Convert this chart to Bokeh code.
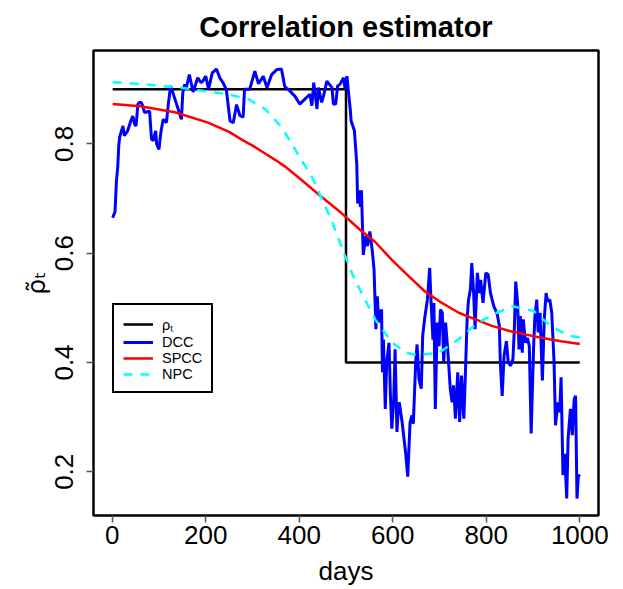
from bokeh.plotting import figure
from bokeh.models import Range1d, FixedTicker, Legend, LegendItem, Label
from bokeh.embed import file_html
from bokeh.resources import INLINE

# ---- data ----
rho_days = [1, 500, 500, 1000]
rho_vals = [0.9, 0.9, 0.4, 0.4]

dcc_days = [1, 6, 9, 12, 14, 16, 23, 26, 33, 41, 44, 48, 51, 55, 58, 62, 65, 69, 72, 80,
            84, 88, 90, 93, 95, 100, 104, 109, 116, 120, 125, 132, 141, 148, 151, 155, 158, 165, 173, 183,
            190, 194, 200, 206, 214, 223, 230, 237, 244, 252, 259, 266, 273, 280, 283, 294, 305, 313, 323, 331,
            341, 352, 362, 369, 380, 391, 401, 412, 423, 427, 431, 438, 441, 448, 452, 459, 470, 473, 478, 482,
            487, 491, 495, 498, 502, 505, 509, 511, 518, 523, 525, 528, 531, 533, 537, 542, 546, 551, 556, 560,
            564, 567, 570, 571, 576, 578, 580, 584, 587, 592, 595, 598, 602, 605, 609, 612, 614, 620, 624, 628,
            632, 637, 641, 644, 649, 652, 656, 661, 664, 668, 674, 679, 682, 686, 688, 691, 695, 699, 702, 706,
            709, 713, 718, 723, 727, 730, 734, 739, 743, 747, 752, 755, 759, 762, 766, 769, 773, 776, 781, 785,
            788, 793, 799, 804, 809, 816, 823, 828, 830, 834, 838, 843, 847, 852, 857, 860, 863, 867, 870, 873,
            877, 879, 884, 888, 892, 896, 901, 904, 908, 911, 915, 920, 924, 928, 931, 936, 940, 945, 948, 953,
            957, 960, 964, 968, 972, 975, 980, 984, 988, 991, 994, 997, 1000]
dcc_vals = [0.665, 0.676, 0.731, 0.76, 0.797, 0.813, 0.833, 0.815, 0.824, 0.845, 0.851, 0.836, 0.833, 0.873, 0.876, 0.876, 0.87, 0.858, 0.858, 0.86,
            0.809, 0.806, 0.815, 0.824, 0.8, 0.79, 0.821, 0.845, 0.839, 0.873, 0.906, 0.888, 0.864, 0.845, 0.894, 0.909, 0.901, 0.927, 0.895, 0.921,
            0.912, 0.915, 0.924, 0.9, 0.93, 0.937, 0.921, 0.912, 0.9, 0.842, 0.839, 0.872, 0.852, 0.849, 0.9, 0.9, 0.933, 0.91, 0.924, 0.903,
            0.927, 0.936, 0.937, 0.905, 0.897, 0.887, 0.873, 0.882, 0.891, 0.87, 0.912, 0.864, 0.903, 0.876, 0.888, 0.915, 0.903, 0.873, 0.873, 0.906,
            0.909, 0.915, 0.921, 0.9, 0.924, 0.897, 0.864, 0.842, 0.824, 0.764, 0.691, 0.715, 0.685, 0.715, 0.597, 0.631, 0.613, 0.64, 0.606, 0.57,
            0.461, 0.521, 0.473, 0.485, 0.497, 0.382, 0.442, 0.315, 0.4, 0.436, 0.34, 0.279, 0.33, 0.424, 0.273, 0.322, 0.327, 0.291, 0.261, 0.231,
            0.191, 0.29, 0.303, 0.288, 0.4, 0.433, 0.37, 0.352, 0.449, 0.479, 0.515, 0.573, 0.509, 0.442, 0.509, 0.315, 0.473, 0.43, 0.497, 0.491,
            0.4, 0.473, 0.418, 0.352, 0.327, 0.358, 0.297, 0.382, 0.291, 0.376, 0.297, 0.37, 0.479, 0.515, 0.533, 0.582, 0.527, 0.461, 0.564, 0.527,
            0.551, 0.509, 0.564, 0.561, 0.527, 0.503, 0.49, 0.467, 0.4, 0.339, 0.412, 0.439, 0.4, 0.394, 0.406, 0.461, 0.548, 0.509, 0.424, 0.485,
            0.418, 0.479, 0.436, 0.445, 0.43, 0.27, 0.424, 0.485, 0.515, 0.455, 0.491, 0.367, 0.479, 0.527, 0.512, 0.515, 0.491, 0.4, 0.285, 0.327,
            0.309, 0.373, 0.194, 0.233, 0.151, 0.261, 0.315, 0.267, 0.333, 0.339, 0.151, 0.194, 0.191]

spcc_days = [1, 60, 134, 205, 250, 277, 300, 326, 350, 369, 405, 448, 491, 530, 562, 598, 634, 669, 705, 741,
             777, 812, 848, 885, 920, 960, 1000]
spcc_vals = [0.873, 0.869, 0.858, 0.839, 0.822, 0.808, 0.797, 0.783, 0.770, 0.759, 0.734, 0.703, 0.673, 0.643, 0.621, 0.588, 0.558, 0.53, 0.509, 0.491,
             0.479, 0.467, 0.458, 0.451, 0.445, 0.439, 0.434]

npc_days = [1, 69, 155, 246, 291, 327, 363, 405, 427, 448, 469, 498, 519, 563, 599, 629, 652, 699, 742, 780,
            820, 856, 902, 937, 977, 1000]
npc_vals = [0.913, 0.909, 0.902, 0.891, 0.882, 0.864, 0.83, 0.77, 0.74, 0.70, 0.66, 0.595, 0.551, 0.478, 0.436, 0.418, 0.413, 0.418, 0.443, 0.472,
            0.49, 0.503, 0.494, 0.467, 0.449, 0.446]

x_ticks = [0, 200, 400, 600, 800, 1000]
y_ticks = [0.2, 0.4, 0.6, 0.8]

FONT = "Liberation Sans"

p = figure(width=623, height=589, output_backend="svg", toolbar_location=None,
           x_range=Range1d(-40, 1040), y_range=Range1d(0.12, 0.971),
           min_border_left=93, min_border_right=25, min_border_top=46, min_border_bottom=74,
           title="Correlation estimator")
p.background_fill_color = "white"
p.border_fill_color = "white"
p.grid.visible = False
p.outline_line_color = "black"
p.outline_line_width = 2.5

p.title.align = "center"
p.title.text_font = FONT
p.title.text_font_size = "29px"
p.title.text_font_style = "bold"
p.title.text_color = "black"
p.title.standoff = 16

for ax in (p.xaxis[0], p.yaxis[0]):
    ax.axis_line_color = None
    ax.major_tick_line_color = "#555555"
    ax.major_tick_line_width = 1.5
    ax.major_tick_in = 0
    ax.major_tick_out = 7
    ax.minor_tick_line_color = None
    ax.major_label_text_font = FONT
    ax.major_label_text_font_size = "26px"
    ax.major_label_text_color = "black"
    ax.axis_label_text_font = FONT
    ax.axis_label_text_font_size = "26px"
    ax.axis_label_text_font_style = "normal"
    ax.axis_label_text_color = "black"

p.xaxis.ticker = FixedTicker(ticks=x_ticks)
p.yaxis.ticker = FixedTicker(ticks=y_ticks)
p.xaxis.major_label_standoff = 3
p.yaxis.major_label_standoff = 13
p.yaxis.major_label_orientation = "vertical"
p.xaxis.axis_label = "days"
p.xaxis.axis_label_standoff = 9
p.yaxis.axis_label = "ρ̃ₜ"
p.yaxis.axis_label_text_font = "DejaVu Sans"
p.yaxis.axis_label_text_font_size = "25px"
p.yaxis.axis_label_standoff = 2

r_rho = p.line(rho_days, rho_vals, line_color="black", line_width=2.5)
r_dcc = p.line(dcc_days, dcc_vals, line_color="#0000ff", line_width=3)
r_spcc = p.line(spcc_days, spcc_vals, line_color="#ff0000", line_width=2.5)
r_npc = p.line(npc_days, npc_vals, line_color="#00ffff", line_width=2.5, line_dash="9 8")

legend = Legend(items=[LegendItem(label="ρₜ", renderers=[r_rho]),
                       LegendItem(label="DCC", renderers=[r_dcc]),
                       LegendItem(label="SPCC", renderers=[r_spcc]),
                       LegendItem(label="NPC", renderers=[r_npc])],
                location=(19, 122))
legend.label_text_font = FONT
legend.label_text_font_size = "14.5px"
legend.label_text_color = "black"
legend.label_height = 16
legend.glyph_height = 16
legend.glyph_width = 30
legend.spacing = 0
legend.padding = 9
legend.margin = 0
legend.label_standoff = 9
legend.border_line_color = "black"
legend.border_line_alpha = 1
legend.border_line_width = 2
legend.background_fill_color = "white"
legend.background_fill_alpha = 1
p.add_layout(legend)

# clipped tick label of a neighbouring panel at the far left edge
p.add_layout(Label(x=-226, y=0.089, text="0", text_align="right", text_baseline="middle",
                   text_font=FONT, text_font_size="26px", text_color="black"))

open("out.html", "w").write(file_html(p, INLINE))
